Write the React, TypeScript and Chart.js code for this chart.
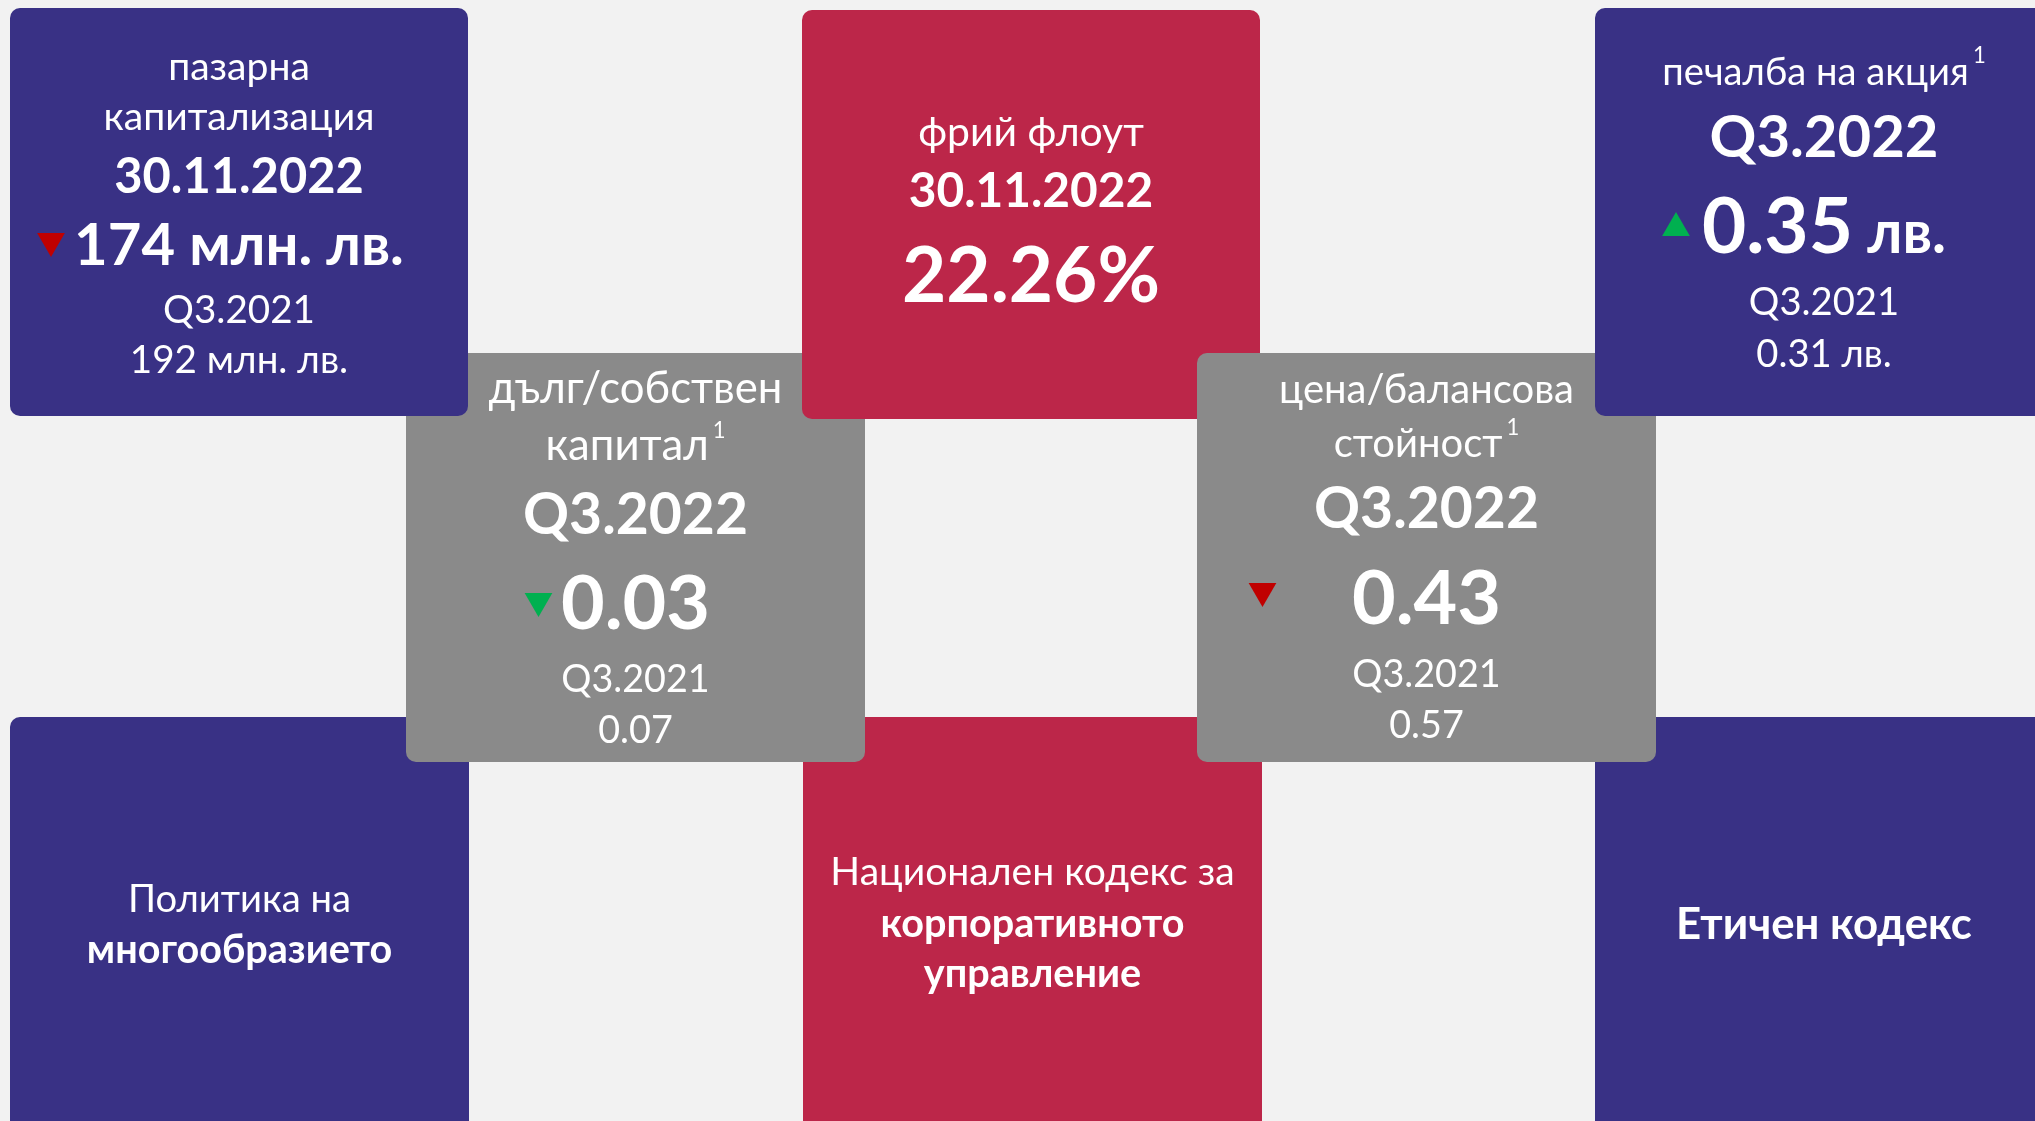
import { useEffect, useRef } from "react";
import { Chart, registerables } from "chart.js";

Chart.register(...registerables);

const W = 2035;
const H = 1121;
const FONT = "Lato, 'Open Sans', sans-serif";
const FS = 0.92;

// ---------- data ----------
const metricTitles: string[][] = [
  ["пазарна", "капитализация"],
  ["фрий флоут"],
  ["печалба на акция"],
  ["дълг/собствен", "капитал"],
  ["цена/балансова", "стойност"],
];
const metricFootnotes = ["", "", "1", "1", "1"];
const currentPeriods = ["30.11.2022", "30.11.2022", "Q3.2022", "Q3.2022", "Q3.2022"];
const currentValues = ["174 млн. лв.", "22.26%", "0.35", "0.03", "0.43"];
const currentUnits = ["", "", "лв.", "", ""];
const previousPeriods = ["Q3.2021", "", "Q3.2021", "Q3.2021", "Q3.2021"];
const previousValues = ["192 млн. лв.", "", "0.31 лв.", "0.07", "0.57"];
const trendDirections = ["down", "", "up", "down", "down"];
const trendFavourable = [false, false, true, true, false];

const documentRegular = ["Политика на", "Национален кодекс за", ""];
const documentBold: string[][] = [["многообразието"], ["корпоративното", "управление"], ["Етичен кодекс"]];

// ---------- layout / styles ----------
const PURPLE = "#393185";
const RED = "#BC2649";
const GRAY = "#8A8A8A";
const BG = "#F2F2F2";
const ARROW_RED = "#C00000";
const ARROW_GREEN = "#00B050";

type Tile = { x: number; y: number; w: number; h: number; color: string };
// draw order matters (overlaps)
const bottomTiles: Tile[] = [
  { x: 10, y: 717, w: 459, h: 430, color: PURPLE },
  { x: 803, y: 717, w: 459, h: 430, color: RED },
  { x: 1595, y: 717, w: 459, h: 430, color: PURPLE },
];
const metricTiles: Tile[] = [
  { x: 10, y: 8, w: 458, h: 408, color: PURPLE },
  { x: 802, y: 10, w: 458, h: 409, color: RED },
  { x: 1595, y: 8, w: 459, h: 408, color: PURPLE },
  { x: 406, y: 353, w: 459, h: 409, color: GRAY },
  { x: 1197, y: 353, w: 459, h: 409, color: GRAY },
];
const metricOrder = [3, 0, 1, 4, 2];

type MetricLayout = {
  cx: number;
  titleY: number[];
  titleSize: number;
  periodY: number;
  periodSize: number;
  valueY: number;
  valueSize: number;
  unitSize: number;
  prevY: number[];
  prevSize: number;
  arrowX: number;
  arrowY: number;
};
const metricLayout: MetricLayout[] = [
  { cx: 239, titleY: [80, 130], titleSize: 42.5, periodY: 193, periodSize: 53, valueY: 265, valueSize: 63, unitSize: 63, prevY: [323, 373], prevSize: 42, arrowX: 51, arrowY: 241 },
  { cx: 1031, titleY: [146], titleSize: 44.5, periodY: 207, periodSize: 52, valueY: 302, valueSize: 83, unitSize: 64, prevY: [0, 0], prevSize: 42, arrowX: 0, arrowY: 0 },
  { cx: 1824, titleY: [85], titleSize: 41.5, periodY: 157, periodSize: 63, valueY: 253, valueSize: 83, unitSize: 64, prevY: [315, 367], prevSize: 41.5, arrowX: 1676, arrowY: 228 },
  { cx: 635.5, titleY: [403, 460], titleSize: 47.5, periodY: 534, periodSize: 62, valueY: 629, valueSize: 82, unitSize: 64, prevY: [692, 743], prevSize: 41, arrowX: 538.5, arrowY: 601 },
  { cx: 1426.5, titleY: [403, 457], titleSize: 43.5, periodY: 528, periodSize: 62, valueY: 624, valueSize: 82, unitSize: 64, prevY: [687, 738], prevSize: 41, arrowX: 1262.5, arrowY: 591 },
];
const documentLayout = [
  { cx: 239.5, ys: [912, 963], sizes: [41.5, 43] },
  { cx: 1032.5, ys: [885, 937, 987], sizes: [42.5, 43, 43] },
  { cx: 1824, ys: [939], sizes: [47.5] },
];

function font(size: number, bold: boolean) {
  return `${bold ? "bold " : ""}${Math.round(size * FS * 10) / 10}px ${FONT}`;
}

const tilesPlugin = {
  id: "tiles",
  beforeDatasetsDraw(chart: any) {
    const { ctx, scales } = chart;
    const px = (v: number) => scales.x.getPixelForValue(v);
    const py = (v: number) => scales.y.getPixelForValue(v);
    ctx.save();
    ctx.fillStyle = BG;
    ctx.fillRect(0, 0, chart.width, chart.height);
    const drawTile = (t: Tile) => {
      ctx.fillStyle = t.color;
      ctx.beginPath();
      ctx.roundRect(px(t.x), py(t.y), px(t.x + t.w) - px(t.x), py(t.y + t.h) - py(t.y), 10);
      ctx.fill();
    };
    bottomTiles.forEach(drawTile);
    metricOrder.forEach((i) => drawTile(metricTiles[i]));
    ctx.restore();
  },
  afterDatasetsDraw(chart: any) {
    const { ctx, scales } = chart;
    const px = (v: number) => scales.x.getPixelForValue(v);
    const py = (v: number) => scales.y.getPixelForValue(v);
    ctx.save();
    ctx.fillStyle = "#FFFFFF";
    ctx.textBaseline = "alphabetic";

    metricTitles.forEach((lines, i) => {
      const L = metricLayout[i];
      lines.forEach((line, j) => {
        const isLast = j === lines.length - 1;
        const sup = isLast ? metricFootnotes[i] : "";
        ctx.font = font(L.titleSize, false);
        const mw = ctx.measureText(line).width;
        ctx.font = font(24, false);
        const sw = sup ? ctx.measureText(sup).width + 4 : 0;
        const left = px(L.cx) - (mw + sw) / 2;
        ctx.textAlign = "left";
        ctx.font = font(L.titleSize, false);
        ctx.fillText(line, left, py(L.titleY[j]));
        if (sup) {
          ctx.font = font(24, false);
          ctx.fillText(sup, left + mw + 4, py(L.titleY[j] - 22));
        }
      });
      ctx.textAlign = "center";
      ctx.font = font(L.periodSize, true);
      ctx.fillText(currentPeriods[i], px(L.cx), py(L.periodY));
      ctx.font = font(L.valueSize, true);
      const vw = ctx.measureText(currentValues[i]).width;
      let uw = 0;
      const unit = currentUnits[i];
      if (unit) {
        ctx.font = font(L.unitSize, true);
        uw = ctx.measureText(" " + unit).width;
      }
      const vleft = px(L.cx) - (vw + uw) / 2;
      ctx.textAlign = "left";
      ctx.font = font(L.valueSize, true);
      ctx.fillText(currentValues[i], vleft, py(L.valueY));
      if (unit) {
        ctx.font = font(L.unitSize, true);
        ctx.fillText(" " + unit, vleft + vw, py(L.valueY));
      }
      ctx.textAlign = "center";
      ctx.font = font(L.prevSize, false);
      if (previousPeriods[i]) ctx.fillText(previousPeriods[i], px(L.cx), py(L.prevY[0]));
      if (previousValues[i]) ctx.fillText(previousValues[i], px(L.cx), py(L.prevY[1]));
    });

    documentBold.forEach((boldLines, i) => {
      const D = documentLayout[i];
      const lines: { t: string; b: boolean }[] = [];
      if (documentRegular[i]) lines.push({ t: documentRegular[i], b: false });
      boldLines.forEach((t) => lines.push({ t, b: true }));
      ctx.textAlign = "center";
      lines.forEach((ln, j) => {
        ctx.font = font(D.sizes[j], ln.b);
        ctx.fillText(ln.t, px(D.cx), py(D.ys[j]));
      });
    });
    ctx.restore();
  },
};

export default function App() {
  const ref = useRef<HTMLCanvasElement | null>(null);
  useEffect(() => {
    document.body.style.margin = "0";
    document.body.style.overflow = "hidden";
    const canvas = ref.current;
    if (!canvas) return;
    const arrowIdx = trendDirections.map((d, i) => (d ? i : -1)).filter((i) => i >= 0);
    const chart = new Chart(canvas, {
      type: "scatter",
      data: {
        datasets: [
          {
            label: "trend",
            data: arrowIdx.map((i) => ({ x: metricLayout[i].arrowX, y: metricLayout[i].arrowY })),
            pointStyle: "triangle",
            pointRadius: 16,
            pointBorderWidth: 0,
            pointRotation: arrowIdx.map((i) => (trendDirections[i] === "down" ? 180 : 0)),
            backgroundColor: arrowIdx.map((i) => (trendFavourable[i] ? ARROW_GREEN : ARROW_RED)),
            borderColor: arrowIdx.map((i) => (trendFavourable[i] ? ARROW_GREEN : ARROW_RED)),
            clip: false,
          } as any,
        ],
      },
      options: {
        animation: false,
        responsive: false,
        maintainAspectRatio: false,
        devicePixelRatio: 1,
        events: [],
        layout: { padding: 0, autoPadding: false },
        scales: {
          x: { type: "linear", min: 0, max: W, display: false },
          y: { type: "linear", min: 0, max: H, reverse: true, display: false },
        },
        plugins: { legend: { display: false }, tooltip: { enabled: false } },
      },
      plugins: [tilesPlugin],
    });
    return () => chart.destroy();
  }, []);
  return (
    <div style={{ width: W, height: H }}>
      <canvas ref={ref} width={W} height={H} style={{ display: "block" }} />
    </div>
  );
}
